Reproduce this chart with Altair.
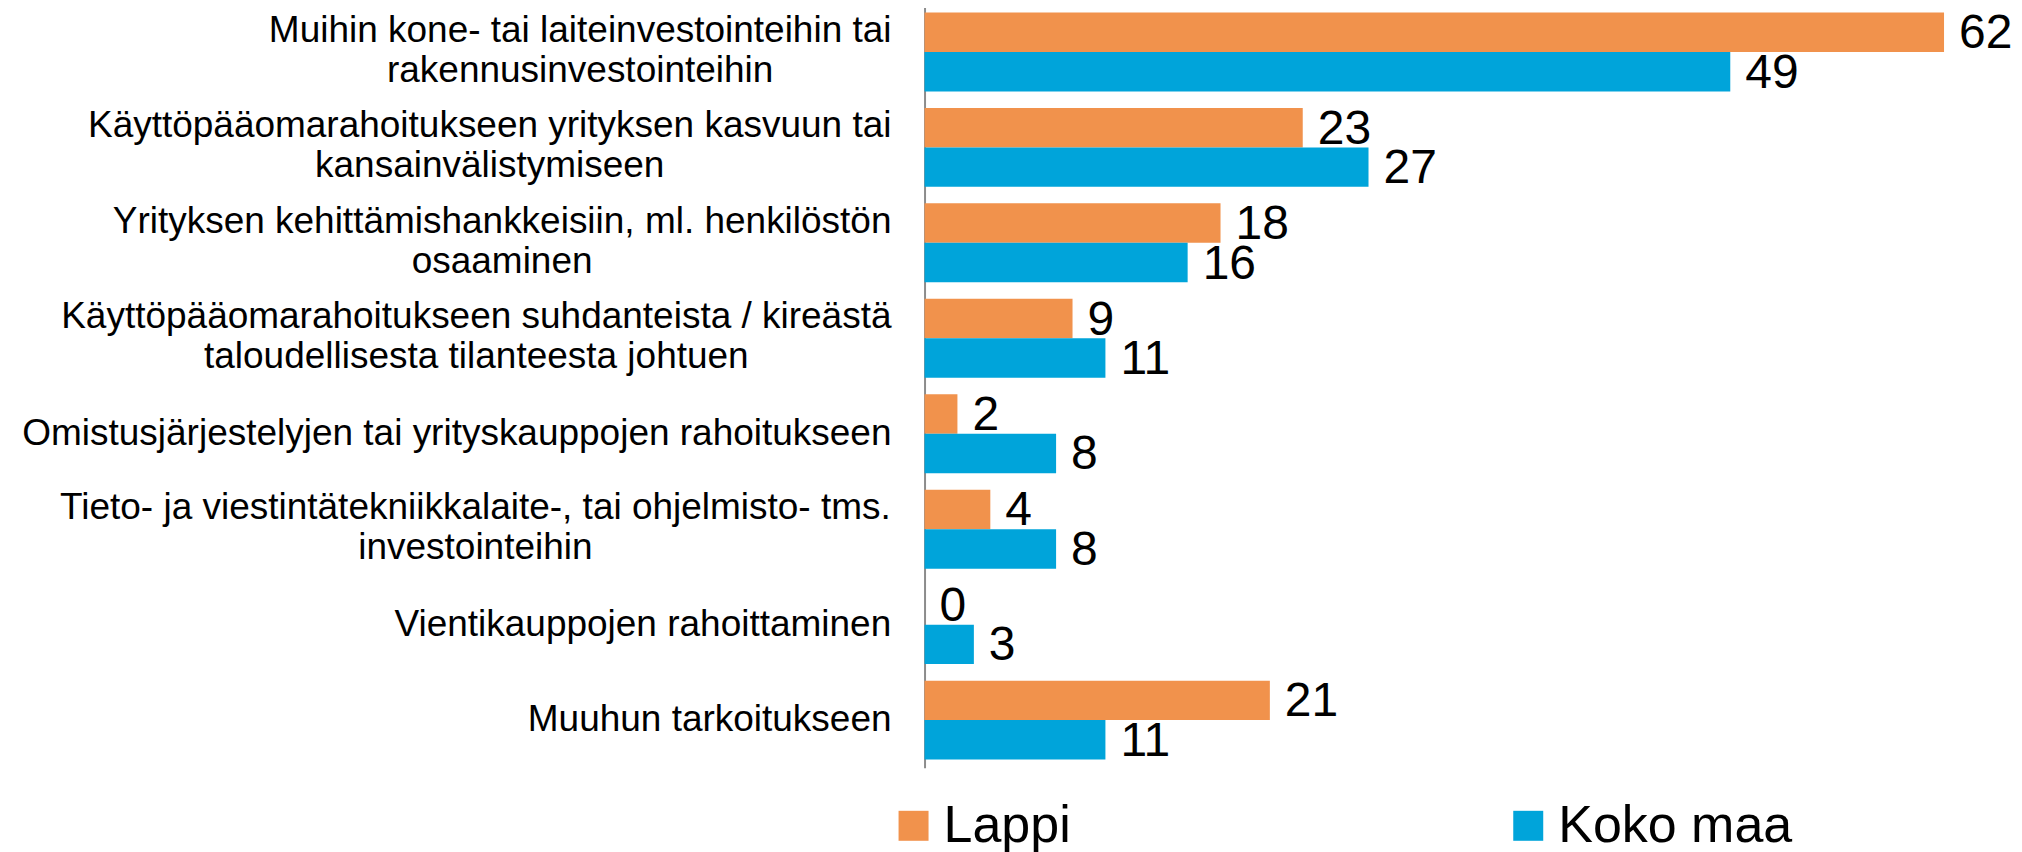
import altair as alt
import pandas as pd

categories = [
    "Muihin kone- tai laiteinvestointeihin tai\nrakennusinvestointeihin",
    "Käyttöpääomarahoitukseen yrityksen kasvuun tai\nkansainvälistymiseen",
    "Yrityksen kehittämishankkeisiin, ml. henkilöstön\nosaaminen",
    "Käyttöpääomarahoitukseen suhdanteista / kireästä\ntaloudellisesta tilanteesta johtuen",
    "Omistusjärjestelyjen tai yrityskauppojen rahoitukseen",
    "Tieto- ja viestintätekniikkalaite-, tai ohjelmisto- tms.\ninvestointeihin",
    "Vientikauppojen rahoittaminen",
    "Muuhun tarkoitukseen",
]
series_names = ["Lappi", "Koko maa"]
lappi = [62, 23, 18, 9, 2, 4, 0, 21]
koko_maa = [49, 27, 16, 11, 8, 8, 3, 11]
colors = ["#F1924C", "#00A4DA"]

FONT = "Liberation Sans"
LABEL_SIZE = 37
LABEL_GAP = 33  # distance between label block right edge and the axis

# Liberation Sans / Arial advance widths (per 1000 em) used to centre wrapped lines
ARIAL_W = {
    " ": 278, ",": 278, "-": 333, ".": 278, "/": 278,
    "a": 556, "b": 556, "c": 500, "d": 556, "e": 556, "f": 278, "g": 556,
    "h": 556, "i": 222, "j": 222, "k": 500, "l": 222, "m": 833, "n": 556,
    "o": 556, "p": 556, "q": 556, "r": 333, "s": 500, "t": 278, "u": 556,
    "v": 500, "w": 722, "x": 500, "y": 500, "z": 500, "ä": 556, "ö": 556,
    "K": 667, "M": 833, "O": 778, "T": 611, "V": 667, "Y": 667,
}


def text_width(s, size):
    return sum(ARIAL_W.get(ch, 556) for ch in s) * size / 1000.0


rows = []
for i, c in enumerate(categories):
    rows.append({"category": c, "series": series_names[0], "value": lappi[i]})
    rows.append({"category": c, "series": series_names[1], "value": koko_maa[i]})
df = pd.DataFrame(rows)

label_rows = []
for c in categories:
    lines = c.split("\n")
    block = max(text_width(l, LABEL_SIZE) for l in lines)
    xc = -LABEL_GAP - block / 2.0
    if len(lines) == 1:
        label_rows.append({"category": c, "line": lines[0], "pos": "single", "xc": xc})
    else:
        label_rows.append({"category": c, "line": lines[0], "pos": "top", "xc": xc})
        label_rows.append({"category": c, "line": lines[1], "pos": "bottom", "xc": xc})
lab_df = pd.DataFrame(label_rows)

y_scale = alt.Scale(paddingInner=0.173, paddingOuter=0.0865, range=[-4, 760])

y_enc = alt.Y(
    "category:N",
    sort=categories,
    scale=y_scale,
    axis=alt.Axis(
        title=None, labels=False, ticks=False, grid=False,
        domain=True, domainColor="#8C8C8C", domainWidth=2,
    ),
)
y_off = alt.YOffset("series:N", sort=series_names, scale=alt.Scale(paddingInner=0, paddingOuter=0))
x_enc = alt.X(
    "value:Q",
    scale=alt.Scale(domain=[0, 62], nice=False, zero=True),
    axis=None,
)

bars = alt.Chart(df).mark_bar(cornerRadius=0).encode(
    y=y_enc,
    yOffset=y_off,
    x=x_enc,
    color=alt.Color(
        "series:N",
        sort=series_names,
        scale=alt.Scale(domain=series_names, range=colors),
        legend=alt.Legend(
            title=None,
            orient="none",
            legendX=-37,
            legendY=792,
            direction="horizontal",
            columns=2,
            columnPadding=431,
            symbolType="square",
            symbolSize=900,
            symbolStrokeWidth=0,
            labelFontSize=52,
            labelFont=FONT,
            labelColor="#000000",
            labelOffset=4,
            labelLimit=0,
            padding=0,
        ),
    ),
)

values = alt.Chart(df).mark_text(
    align="left", baseline="middle", dx=15, dy=2, fontSize=48, font=FONT, color="#000000"
).encode(
    y=alt.Y("category:N", sort=categories),
    yOffset=alt.YOffset("series:N", sort=series_names),
    x=alt.X("value:Q"),
    text=alt.Text("value:Q"),
)


def label_layer(pos, dy):
    return alt.Chart(lab_df).transform_filter(
        alt.datum.pos == pos
    ).mark_text(
        align="center", baseline="middle", fontSize=LABEL_SIZE, font=FONT,
        color="#000000", dy=dy,
    ).encode(
        y=alt.Y("category:N", sort=categories),
        x=alt.X("xc:Q", scale=None),
        text=alt.Text("line:N"),
    )


chart = alt.layer(
    bars, values,
    label_layer("single", 0),
    label_layer("top", -21),
    label_layer("bottom", 19),
).properties(
    width=1020,
    height=760,
    autosize=alt.AutoSizeParams(type="none"),
    padding={"left": 917, "top": 0, "right": 70, "bottom": 84},
    background="#FFFFFF",
).configure_view(stroke=None)

chart.save("out.html", embed_options={"renderer": "svg", "actions": False})
